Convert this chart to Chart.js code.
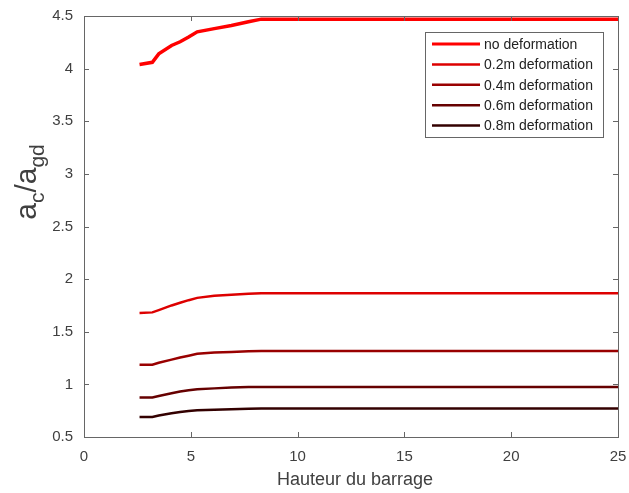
<!DOCTYPE html>
<html>
<head>
<meta charset="utf-8">
<script src="https://cdn.jsdelivr.net/npm/chart.js@4.4.0/dist/chart.umd.min.js"></script>
<style>
html,body{margin:0;padding:0;background:#fff;}
#wrap{width:629px;height:493px;}
</style>
</head>
<body>
<div id="wrap"><canvas id="c" width="629" height="493"></canvas></div>
<script>
// Data
const heights = [2.6, 3.2, 3.5, 4.1, 4.5, 4.9, 5.3, 6.1, 6.9, 7.7, 8.3, 25];
const noDeformation = [4.04, 4.06, 4.14, 4.22, 4.255, 4.30, 4.35, 4.38, 4.41, 4.445, 4.47, 4.47];
const def02 = [1.678, 1.684, 1.705, 1.75, 1.775, 1.80, 1.822, 1.842, 1.852, 1.862, 1.865, 1.865];
const def04 = [1.186, 1.186, 1.205, 1.235, 1.255, 1.272, 1.29, 1.303, 1.308, 1.315, 1.318, 1.318];
const def06 = [0.875, 0.875, 0.89, 0.915, 0.932, 0.945, 0.954, 0.962, 0.97, 0.975, 0.976, 0.976];
const def08 = [0.69, 0.69, 0.705, 0.725, 0.738, 0.748, 0.754, 0.76, 0.764, 0.768, 0.77, 0.77];
const seriesLabels = ['no deformation', '0.2m deformation', '0.4m deformation', '0.6m deformation', '0.8m deformation'];
const xTicks = [0, 5, 10, 15, 20, 25];
const yTicks = [0.5, 1, 1.5, 2, 2.5, 3, 3.5, 4, 4.5];
const xTitle = 'Hauteur du barrage';

const colors = ['#ff0000', '#dd0000', '#990000', '#660000', '#330000'];
const widths = [3.5, 2.5, 2.5, 2.5, 2.5];
const allSeries = [noDeformation, def02, def04, def06, def08];

const FRAME = '#666666';
const TXT = '#404040';
const FONT = '"Liberation Sans", Arial, sans-serif';

const datasets = allSeries.map((vals, i) => ({
  label: seriesLabels[i],
  data: heights.map((h, j) => ({x: h, y: vals[j]})),
  borderColor: colors[i],
  backgroundColor: colors[i],
  borderWidth: widths[i],
  pointRadius: 0,
  tension: 0,
  fill: false
}));

const decor = {
  id: 'decor',
  afterDraw(chart) {
    const ctx = chart.ctx;
    const a = chart.chartArea;
    const xs = chart.scales.x, ys = chart.scales.y;
    ctx.save();
    // frame
    ctx.strokeStyle = FRAME;
    ctx.lineWidth = 1;
    ctx.strokeRect(Math.round(a.left) + 0.5, Math.round(a.top) + 0.5, Math.round(a.right - a.left), Math.round(a.bottom - a.top));
    // inward ticks
    const tl = 5;
    ctx.beginPath();
    xTicks.forEach(v => {
      const px = Math.round(xs.getPixelForValue(v)) + 0.5;
      ctx.moveTo(px, a.bottom); ctx.lineTo(px, a.bottom - tl);
      ctx.moveTo(px, a.top); ctx.lineTo(px, a.top + tl);
    });
    yTicks.forEach(v => {
      const py = Math.round(ys.getPixelForValue(v)) + 0.5;
      ctx.moveTo(a.left, py); ctx.lineTo(a.left + tl, py);
      ctx.moveTo(a.right, py); ctx.lineTo(a.right - tl, py);
    });
    ctx.stroke();

    // x title
    ctx.fillStyle = TXT;
    ctx.font = '18px ' + FONT;
    ctx.textAlign = 'center';
    ctx.textBaseline = 'alphabetic';
    ctx.fillText(xTitle, (a.left + a.right) / 2 + 4, 485);

    // y title a_c / a_gd rotated
    const mainF = '30px ' + FONT, subF = '21px ' + FONT;
    const parts = [['a', mainF, 0], ['c', subF, 8], ['/a', mainF, 0], ['gd', subF, 8]];
    let total = 0;
    parts.forEach(p => { ctx.font = p[1]; total += ctx.measureText(p[0]).width; });
    ctx.save();
    ctx.translate(36, 182 + total / 2);
    ctx.rotate(-Math.PI / 2);
    ctx.textAlign = 'left';
    let cx = 0;
    parts.forEach(p => {
      ctx.font = p[1];
      ctx.fillText(p[0], cx, p[2]);
      cx += ctx.measureText(p[0]).width;
    });
    ctx.restore();

    // legend box
    const bx = 425, by = 32, bw = 178, bh = 105;
    ctx.fillStyle = '#ffffff';
    ctx.fillRect(bx, by, bw, bh);
    ctx.strokeStyle = FRAME;
    ctx.lineWidth = 1;
    ctx.strokeRect(bx + 0.5, by + 0.5, bw, bh);
    ctx.font = '14px ' + FONT;
    ctx.textAlign = 'left';
    ctx.textBaseline = 'middle';
    chart.data.datasets.forEach((ds, i) => {
      const yy = 44 + i * 20.4;
      ctx.strokeStyle = ds.borderColor;
      ctx.lineWidth = i === 0 ? 3 : 2.5;
      ctx.beginPath();
      ctx.moveTo(432, yy); ctx.lineTo(480, yy);
      ctx.stroke();
      ctx.fillStyle = '#222222';
      ctx.fillText(ds.label, 484, yy + 1);
    });
    ctx.restore();
  }
};

new Chart(document.getElementById('c'), {
  type: 'line',
  data: { datasets },
  options: {
    responsive: false,
    animation: false,
    devicePixelRatio: 1,
    layout: { padding: { left: 0, top: 16, right: 11, bottom: 0 } },
    plugins: { legend: { display: false }, tooltip: { enabled: false } },
    scales: {
      x: {
        type: 'linear', min: 0, max: 25,
        afterBuildTicks: s => { s.ticks = xTicks.map(v => ({value: v})); },
        afterFit: s => { s.height = 56; s.paddingLeft = 0; s.paddingRight = 0; },
        grid: { display: false, drawTicks: false },
        border: { display: false },
        ticks: { font: { size: 15, family: FONT }, color: TXT, padding: 11, maxRotation: 0,
                 callback: v => String(v) }
      },
      y: {
        type: 'linear', min: 0.5, max: 4.5,
        afterBuildTicks: s => { s.ticks = yTicks.map(v => ({value: v})); },
        afterFit: s => { s.width = 84; s.paddingTop = 0; s.paddingBottom = 0; },
        grid: { display: false, drawTicks: false },
        border: { display: false },
        ticks: { font: { size: 15, family: FONT }, color: TXT, padding: 11,
                 callback: v => String(v) }
      }
    }
  },
  plugins: [decor]
});
</script>
</body>
</html>
